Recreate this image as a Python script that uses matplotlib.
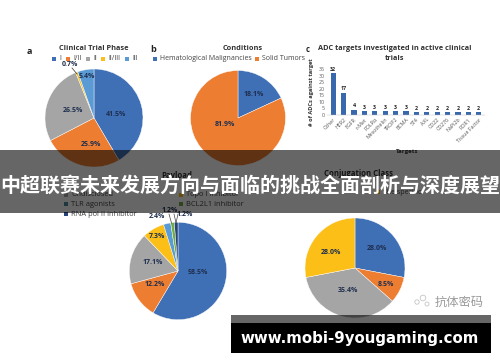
import matplotlib
matplotlib.use('Agg')
import matplotlib.pyplot as plt
from matplotlib.patches import Rectangle, Circle

plt.rcParams['font.family'] = ['Open Sans', 'Noto Sans CJK SC', 'DejaVu Sans']

W, H = 500, 362

BLUE = '#3f6fb5'
ORANGE = '#ed7d31'
GRAY = '#a5a5a5'
YELLOW = '#fbbf17'
LBLUE = '#5b9bd5'
GREEN = '#70ad47'
DBLUE = '#264478'

phase_labels = ['I', 'I/II', 'II', 'II/III', 'III']
phase_values = [41.5, 25.9, 26.5, 0.7, 5.4]

condition_labels = ['Hematological Malignancies', 'Solid Tumors']
condition_values = [18.1, 81.9]

targets = ['Other', 'HER2', 'EGFR', 'c-Met', 'FOLRα', 'Mesothelin', 'TROP2', 'BCMA',
           '5T4', 'AXL', 'CD22', 'CD276', 'NaPi2b', 'ROR1', 'Tissue Factor']
target_counts = [32, 17, 4, 3, 3, 3, 3, 3, 2, 2, 2, 2, 2, 2, 2]
target_ticks = [0, 5, 10, 15, 20, 25, 30, 35]

payload_values = [58.5, 12.2, 17.1, 7.3, 2.4, 1.2, 1.2]
conjugation_values = [28.0, 8.5, 35.4, 28.0]

banner_text = '中超联赛未来发展方向与面临的挑战全面剖析与深度展望'
site_text = 'www.mobi-9yougaming.com'
mark_text = '抗体密码'

fig = plt.figure(figsize=(W / 100, H / 100), dpi=100, facecolor='white')


def px_axes(left, top, width, height, z=1):
    # pixel box (y from the top) to figure fractions
    return fig.add_axes([left / W, 1 - (top + height) / H, width / W, height / H], zorder=z)


def draw_pie(cx, cy, r, values, colors):
    ax = px_axes(cx - r, cy - r, 2 * r, 2 * r)
    ax.pie(values, colors=colors, startangle=90, counterclock=False, radius=1,
           wedgeprops={'linewidth': 0.3, 'edgecolor': 'white'})
    ax.set_xlim(-1, 1)
    ax.set_ylim(-1, 1)
    return ax


draw_pie(94, 118, 49, phase_values, [BLUE, ORANGE, GRAY, YELLOW, LBLUE])
draw_pie(238, 118, 47.5, condition_values, [BLUE, ORANGE])
draw_pie(178, 271, 48.7, payload_values, [BLUE, ORANGE, GRAY, YELLOW, LBLUE, GREEN, DBLUE])
draw_pie(355, 268, 50, conjugation_values, [BLUE, ORANGE, GRAY, YELLOW])

# bar chart
ax = px_axes(327, 69, 158, 46)
ax.bar(range(len(targets)), target_counts, width=0.5, color='#3a68ad')
ax.set_xlim(-0.6, 14.6)
ax.set_ylim(0, 35)
ax.set_yticks(target_ticks)
ax.set_xticks(range(len(targets)))
ax.set_xticklabels(targets, rotation=45, ha='right', rotation_mode='anchor', fontsize=3.8, color='#555555')
ax.tick_params(axis='both', length=0, pad=1.5)
ax.tick_params(axis='y', labelsize=3.8, labelcolor='#555555')
for s in ['top', 'right', 'left']:
    ax.spines[s].set_visible(False)
ax.spines['bottom'].set_linewidth(0.3)
ax.spines['bottom'].set_color('#bbbbbb')
ax.patch.set_alpha(0)
for i, v in enumerate(target_counts):
    ax.annotate(str(v), (i, v), xytext=(0, 1), textcoords='offset points', ha='center', va='bottom',
                fontsize=3.8, fontweight='bold', color='#222222')

# everything else in pixel coordinates on top
ov = fig.add_axes([0, 0, 1, 1], zorder=5)
ov.set_xlim(0, W)
ov.set_ylim(H, 0)
ov.axis('off')
ov.patch.set_alpha(0)


def txt(x, y, s, size=4.8, bold=False, color='#222222', ha='center', **kw):
    ov.text(x, y, s, fontsize=size, fontweight='bold' if bold else 'normal', color=color,
            ha=ha, va='center', **kw)


def legend_item(x, y, color, s, size=5):
    ov.add_patch(Rectangle((x - 1.7, y - 1.7), 3.4, 3.4, color=color, lw=0))
    txt(x + 5, y, s, size=size, color='#444444', ha='left')


# panel letters and titles
txt(29, 51, 'a', 6.5, True)
txt(153, 50, 'b', 6.5, True)
txt(308, 50, 'c', 5.5, True)
txt(94, 49, 'Clinical Trial Phase', 5.3, True, '#333333')
txt(243, 48, 'Conditions', 5.3, True, '#333333')
txt(395, 48, 'ADC targets investigated in active clinical', 5.3, True, '#333333')
txt(395, 58, 'trials', 5.3, True, '#333333')
txt(312, 92, '# of ADCs against target', 4.1, True, '#333333', rotation=90)
txt(407, 152, 'Targets', 4.4, True, '#333333')

# legends
for x, c, s in zip([54, 68, 88, 103, 127], [BLUE, ORANGE, GRAY, YELLOW, LBLUE], phase_labels):
    legend_item(x, 59, c, s)
for x, c, s in zip([155, 257], [BLUE, ORANGE], condition_labels):
    legend_item(x, 59, c, s, 5)

# pie value labels
for x, y, v in zip([116, 91, 73, 70, 87], [115, 145, 111, 65, 77], phase_values):
    txt(x, y, f'{v}%', 5, True, '#1f2f4f')
ov.plot([72, 77], [68, 74], color='#333333', lw=0.5)
for x, y, v in zip([254, 225], [95, 124], condition_values):
    txt(x, y, f'{v}%', 5, True, '#1f2f4f')
for x, y, v in zip([198, 155, 153, 157, 157, 170, 185], [273, 285, 262, 236, 217, 211, 215], payload_values):
    txt(x, y, f'{v}%', 5, True, '#1f2f4f')
ov.plot([169, 171.5], [214, 223], color='#444444', lw=0.5)
ov.plot([174, 176], [214, 223], color='#444444', lw=0.5)
ov.plot([176, 178], [223, 214], color='#444444', lw=0.5)
for x, y, v in zip([377, 386, 348, 331], [249, 284, 291, 252], conjugation_values):
    txt(x, y, f'{v:.1f}%', 5, True, '#1f2f4f')

# legends that sit under the banner
txt(177, 176, 'Payload', 5.6, True, '#333333')
legend_item(66, 195, GRAY, 'Undisclosed', 5.4)
legend_item(66, 204, '#4a8a9a', 'TLR agonists', 5.4)
legend_item(66, 214, DBLUE, 'RNA pol II inhibitor', 5.4)
legend_item(181, 195, YELLOW, 'Topo I inhibitor', 5.4)
legend_item(181, 204, GREEN, 'BCL2L1 inhibitor', 5.4)
txt(358, 173, 'Conjugation Class', 5.6, True, '#333333')
legend_item(378, 192, YELLOW, 'Site specific', 5)

# translucent banner and site strip
ov.add_patch(Rectangle((0, 150), W, 63, color='black', alpha=0.6, lw=0, zorder=3))
ov.text(W / 2, 185, banner_text, fontsize=14.4, fontweight='bold', color='white', ha='center',
        va='center', family=['Noto Sans CJK SC', 'DejaVu Sans'], zorder=4)
ov.add_patch(Rectangle((231, 315), 260, 8, color='black', alpha=0.6, lw=0, zorder=3))
ov.add_patch(Rectangle((231, 323), 260, 30, color='black', lw=0, zorder=3))
ov.text(360, 338, site_text, fontsize=10.8, fontweight='bold', color='white', ha='center', va='center',
        family='DejaVu Sans', zorder=4)

# watermark
ov.text(459, 302, mark_text, fontsize=8.8, color='#9a9a9a', ha='center', va='center',
        family=['Noto Sans CJK SC', 'DejaVu Sans'], zorder=2)
for x, y, r in [(417, 302, 2.2), (423, 298, 2.8), (427, 304, 2)]:
    ov.add_patch(Circle((x, y), r, fill=False, ec='#c4c4c4', lw=0.6, zorder=2))

fig.savefig('out.png', dpi=100)
